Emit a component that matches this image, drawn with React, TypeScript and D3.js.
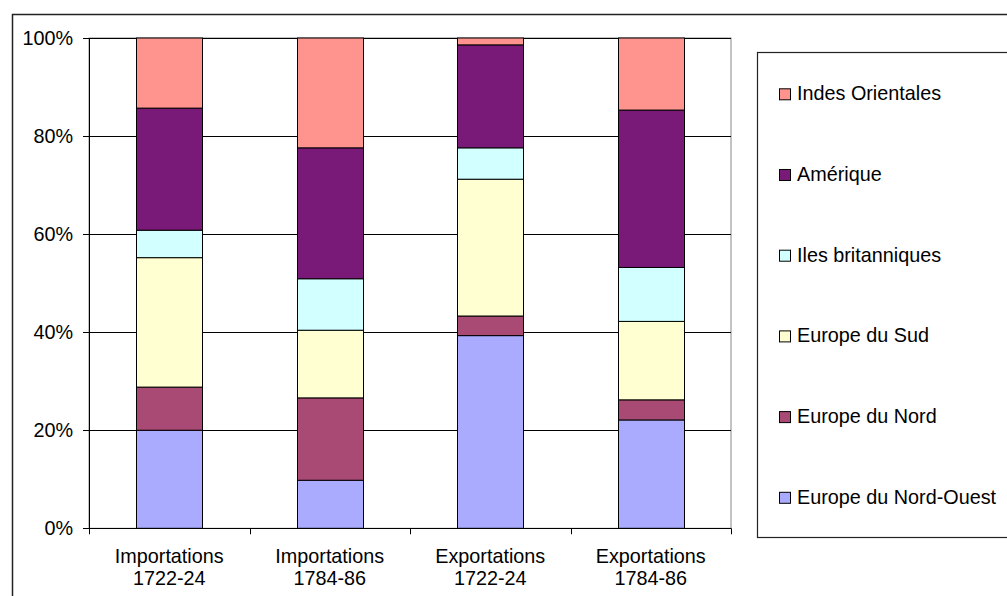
import React from "react";
import * as d3 from "d3";

const categories = [["Importations", "1722-24"], ["Importations", "1784-86"], ["Exportations", "1722-24"], ["Exportations", "1784-86"]];
const seriesNames = ["Europe du Nord-Ouest", "Europe du Nord", "Europe du Sud", "Iles britanniques", "Amérique", "Indes Orientales"];
const nordOuest = [20.0, 9.8, 39.3, 22.1];
const nord = [8.8, 16.8, 4.0, 4.1];
const sud = [26.4, 13.8, 27.9, 16.0];
const iles = [5.6, 10.5, 6.4, 11.0];
const amerique = [24.9, 26.7, 21.0, 32.1];
const indes = [14.3, 22.4, 1.4, 14.7];
const yTicks = [0, 20, 40, 60, 80, 100];
const colors = ["#AAAAFF", "#A94A75", "#FFFFD2", "#D2FFFF", "#7A1A78", "#FF948F"];

export default function App() {
  const W = 1007, H = 596;
  const left = 89, right = 731, top = 38, bottom = 528.3;
  const font = "'Liberation Sans', Arial, sans-serif";
  const fs = 19.8;
  const seriesValues = [nordOuest, nord, sud, iles, amerique, indes];
  const rows = categories.map((c, i) => {
    const r: any = { key: i };
    seriesNames.forEach((s, j) => (r[s] = seriesValues[j][i]));
    return r;
  });
  const stack = d3.stack<any>().keys(seriesNames)(rows);
  const x = d3.scaleBand<number>().domain(categories.map((_, i) => i)).range([left, right]).paddingInner(0.59).paddingOuter(0.295);
  const xc = d3.scaleBand<number>().domain(categories.map((_, i) => i)).range([left, right]);
  const y = d3.scaleLinear().domain([0, 100]).range([bottom, top]);
  const legendOrder = [...seriesNames].reverse();
  return (
    <svg width={W} height={H} style={{ position: "absolute", left: 0, top: 0, background: "#fff" }}>
      <rect x={12.5} y={14.5} width={1100} height={700} fill="#fff" stroke="#222" strokeWidth={1.5} />
      <rect x={left} y={top} width={right - left} height={bottom - top} fill="none" stroke="#888" strokeWidth={1} />
      {yTicks.map((t) => (
        <g key={t}>
          {t > 0 && <line x1={left} x2={right} y1={Math.round(y(t)) + 0.5} y2={Math.round(y(t)) + 0.5} stroke="#000" strokeWidth={1} />}
          <line x1={left - 6} x2={left} y1={Math.round(y(t)) + 0.5} y2={Math.round(y(t)) + 0.5} stroke="#000" />
          <text x={73} y={y(t)} dy="0.36em" textAnchor="end" fontFamily={font} fontSize={fs} fill="#000">{t}%</text>
        </g>
      ))}
      {stack.map((layer, j) => (
        <g key={j}>
          {layer.map((d, i) => (
            <rect key={i} x={Math.round(x(i)!) + 0.5} y={y(d[1])} width={Math.round(x.bandwidth())} height={y(d[0]) - y(d[1])} fill={colors[j]} stroke="#000" strokeWidth={1} />
          ))}
        </g>
      ))}
      <line x1={left + 0.5} x2={left + 0.5} y1={top} y2={bottom} stroke="#000" />
      <line x1={left} x2={right} y1={Math.round(bottom) + 0.5} y2={Math.round(bottom) + 0.5} stroke="#000" />
      {[...categories.map((_, i) => xc(i)!), right].map((tx, i) => (
        <line key={i} x1={Math.round(tx) + 0.5} x2={Math.round(tx) + 0.5} y1={bottom} y2={bottom + 6} stroke="#000" />
      ))}
      {categories.map((c, i) => (
        <text key={i} textAnchor="middle" fontFamily={font} fontSize={fs} fill="#000">
          <tspan x={xc(i)! + xc.bandwidth() / 2} y={563}>{c[0]}</tspan>
          <tspan x={xc(i)! + xc.bandwidth() / 2} y={585}>{c[1]}</tspan>
        </text>
      ))}
      <rect x={757.5} y={52.5} width={400} height={485} fill="#fff" stroke="#222" strokeWidth={1.2} />
      {legendOrder.map((s, k) => {
        const j = seriesNames.indexOf(s);
        const by = 100.3 + k * 80.7;
        return (
          <g key={s}>
            <rect x={779.5} y={by - 11.5} width={11} height={11} fill={colors[j]} stroke="#000" strokeWidth={1} />
            <text x={797} y={by} fontFamily={font} fontSize={fs} fill="#000">{s}</text>
          </g>
        );
      })}
    </svg>
  );
}
